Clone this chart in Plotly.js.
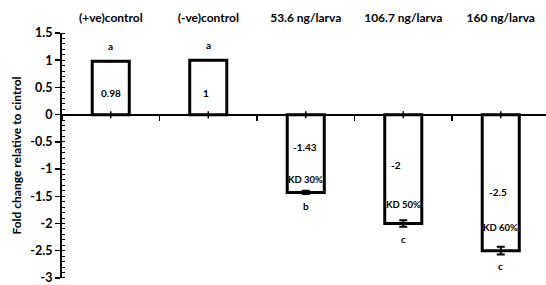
<!DOCTYPE html>
<html>
<head>
<meta charset="utf-8">
<script src="https://cdn.plot.ly/plotly-3.0.1.min.js"></script>
<style>html,body{margin:0;padding:0;background:#fff;}</style>
</head>
<body>
<div id="chart" style="width:546px;height:285px;"></div>
<script>
// ---- data ----
var categories = ["(+ve)control", "(-ve)control", "53.6 ng/larva", "106.7 ng/larva", "160 ng/larva"];
var foldChange = [0.98, 1, -1.43, -2, -2.5];
var errors = [0, 0, 0.03, 0.06, 0.07];
var valueLabels = ["0.98", "1", "-1.43", "-2", "-2.5"];
var groupLetters = ["a", "a", "b", "c", "c"];
var kdLabels = ["", "", "KD 30%", "KD 50%", "KD 60%"];
var yTickVals = [1.5, 1, 0.5, 0, -0.5, -1, -1.5, -2, -2.5, -3];
var yTickText = ["1.5", "1", "0.5", "0", "-0.5", "-1", "-1.5", "-2", "-2.5", "-3"];

// label placement (fraction of bar value), style only
var valueFrac = [0.41, 0.40, 0.41, 0.46, 0.57];
var valueXShift = [0, -2, -1, -7, -3];
var kdFrac = 0.83;

var FONT = "Lato, 'Open Sans', sans-serif";

var traces = [
  {
    type: "bar",
    x: categories,
    y: foldChange,
    width: 0.38,
    marker: {color: "#ffffff", line: {color: "#000000", width: 3}},
    error_y: {type: "data", array: errors, visible: true, color: "#000000", thickness: 2, width: 4},
    hoverinfo: "skip"
  },
  {
    type: "scatter",
    mode: "markers",
    x: categories,
    y: foldChange.map(function () { return 0; }),
    xaxis: "x2",
    marker: {symbol: "line-ns-open", size: 5, color: "#000000", line: {color: "#000000", width: 1.5}},
    hoverinfo: "skip"
  }
];

var annotations = [];
for (var i = 0; i < categories.length; i++) {
  var v = foldChange[i];
  annotations.push({
    x: categories[i], y: v * valueFrac[i], xref: "x", yref: "y",
    text: valueLabels[i], showarrow: false, xshift: valueXShift[i],
    font: {family: FONT, size: 10, color: "#000", weight: "bold"}
  });
  var end = v > 0 ? v + errors[i] : v - errors[i];
  annotations.push({
    x: categories[i], y: end, xref: "x", yref: "y",
    text: groupLetters[i], showarrow: false,
    yanchor: v > 0 ? "bottom" : "top",
    yshift: v > 0 ? 7 : -4,
    font: {family: FONT, size: 10, color: "#000", weight: "bold"}
  });
  if (kdLabels[i]) {
    annotations.push({
      x: categories[i], y: v * kdFrac, xref: "x", yref: "y",
      text: kdLabels[i], showarrow: false,
      font: {family: FONT, size: 9.5, color: "#000", weight: "bold"}
    });
  }
}

var layout = {
  width: 546,
  height: 285,
  margin: {l: 62, r: 0, t: 33, b: 7},
  paper_bgcolor: "#ffffff",
  plot_bgcolor: "#ffffff",
  showlegend: false,
  font: {family: FONT, color: "#000"},
  xaxis: {
    type: "category",
    categoryorder: "array",
    categoryarray: categories,
    range: [-0.5, 4.464],
    anchor: "free",
    position: 3 / 4.5,
    showline: true,
    linecolor: "#000",
    linewidth: 2,
    ticks: "outside",
    tickson: "boundaries",
    ticklen: 5,
    tickwidth: 1.5,
    tickcolor: "#000",
    showticklabels: false,
    showgrid: false,
    zeroline: false,
    fixedrange: true
  },
  xaxis2: {
    type: "category",
    overlaying: "x",
    matches: "x",
    side: "top",
    anchor: "free",
    position: 1,
    showline: false,
    ticks: "",
    showgrid: false,
    zeroline: false,
    tickfont: {family: FONT, size: 12, color: "#000", weight: "bold"},
    ticklabelstandoff: 9
  },
  yaxis: {
    range: [-3.002, 1.5],
    tickmode: "array",
    tickvals: yTickVals,
    ticktext: yTickText,
    ticks: "outside",
    ticklen: 5,
    tickwidth: 1.5,
    tickcolor: "#000",
    showline: true,
    linecolor: "#000",
    linewidth: 2,
    showgrid: false,
    zeroline: false,
    ticklabeloverflow: "allow",
    tickfont: {family: FONT, size: 12.5, color: "#000", weight: "bold"},
    minor: {tickmode: "linear", tick0: 0, dtick: 0.1, ticks: "inside", ticklen: 3, tickwidth: 1, tickcolor: "#000", showgrid: false},
    title: {text: "Fold change relative to cintrol", font: {family: FONT, size: 12, color: "#000", weight: "bold"}, standoff: 6},
    fixedrange: true
  },
  annotations: annotations
};

Plotly.newPlot("chart", traces, layout, {staticPlot: true, displayModeBar: false});
</script>
</body>
</html>
